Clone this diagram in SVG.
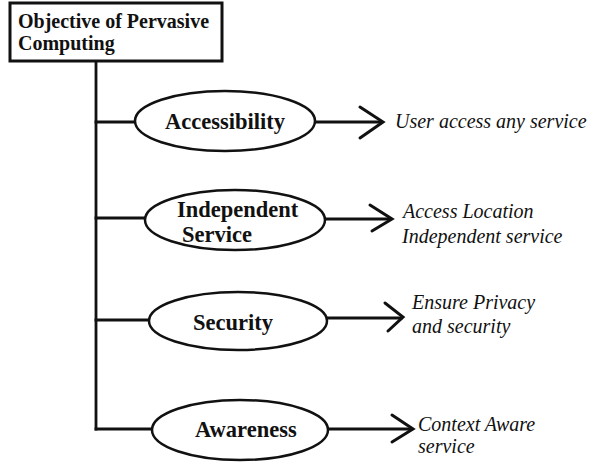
<svg xmlns="http://www.w3.org/2000/svg" width="592" height="462" viewBox="0 0 592 462">
  <style>
    text { font-family: "Liberation Serif", "DejaVu Serif", serif; fill: #111; }
    .title { font-weight: bold; font-size: 20px; }
    .label { font-weight: bold; font-size: 22.5px; }
    .note { font-style: italic; font-size: 20px; }
    .shape { fill: #fff; stroke: #111; stroke-width: 2.5; }
    .wire { fill: none; stroke: #111; stroke-width: 2.8; stroke-linecap: square; }
    .head { fill: none; stroke: #111; stroke-width: 3; stroke-linecap: round; stroke-linejoin: miter; }
  </style>
  <rect width="592" height="462" fill="#fff"/>

  <!-- connectors: trunk, branches and outgoing arrows -->
  <g id="connectors">
    <path class="wire" d="M96,61 V429"/>
    <path class="wire" d="M96,122 H135"/>
    <path class="wire" d="M96,218 H145"/>
    <path class="wire" d="M96,320 H149"/>
    <path class="wire" d="M96,429 H152"/>

    <path class="wire" d="M315,122 H381"/>
    <path class="head" d="M360,107 L383,122 L360,138"/>

    <path class="wire" d="M325,219 H390"/>
    <path class="head" d="M370,205 L392,219 L372,231"/>

    <path class="wire" d="M327,318 H401"/>
    <path class="head" d="M385,303 L403,317 L388,331"/>

    <path class="wire" d="M328,429 H411"/>
    <path class="head" d="M392,415 L413,429 L392,442"/>
  </g>

  <g id="root">
    <rect x="10" y="3" width="212" height="58" fill="#fff" stroke="#111" stroke-width="3"/>
    <text class="title" x="18" y="28">Objective of Pervasive</text>
    <text class="title" x="18" y="50">Computing</text>
  </g>

  <g id="accessibility">
    <ellipse class="shape" cx="225" cy="121" rx="90" ry="30"/>
    <text class="label" x="165" y="129">Accessibility</text>
  </g>

  <g id="independent-service">
    <ellipse class="shape" cx="235" cy="220" rx="90" ry="30"/>
    <text class="label" x="177" y="217">Independent</text>
    <text class="label" x="182" y="242">Service</text>
  </g>

  <g id="security">
    <ellipse class="shape" cx="238" cy="321" rx="89" ry="29"/>
    <text class="label" x="193" y="330">Security</text>
  </g>

  <g id="awareness">
    <ellipse class="shape" cx="240" cy="430" rx="88" ry="30"/>
    <text class="label" x="195" y="437">Awareness</text>
  </g>

  <g id="note-accessibility">
    <text class="note" x="395" y="128">User access any service</text>
  </g>
  <g id="note-independent">
    <text class="note" x="403" y="218">Access Location</text>
    <text class="note" x="402" y="243">Independent service</text>
  </g>
  <g id="note-security">
    <text class="note" x="412" y="309">Ensure Privacy</text>
    <text class="note" x="412" y="333">and security</text>
  </g>
  <g id="note-awareness">
    <text class="note" x="418" y="431">Context Aware</text>
    <text class="note" x="418" y="453">service</text>
  </g>
</svg>
